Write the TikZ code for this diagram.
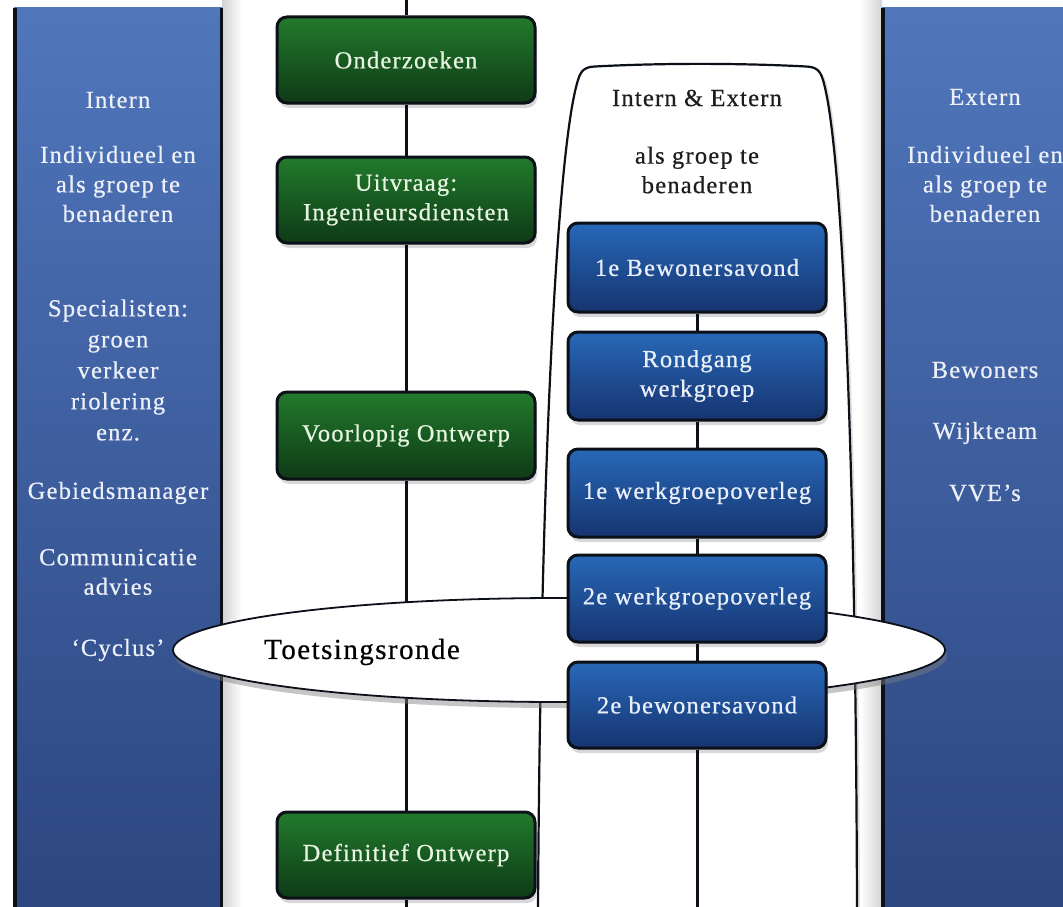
\documentclass[tikz,border=0pt]{standalone}
\usepackage{fontspec}
\setmainfont[LetterSpace=5, FakeBold=0.6]{Liberation Serif}
\usetikzlibrary{shapes.geometric,shadows}
\definecolor{panelTop}{RGB}{80,118,188}
\definecolor{panelBot}{RGB}{44,70,128}
\definecolor{panelTxt}{RGB}{236,240,248}
\definecolor{greenTop}{RGB}{34,122,44}
\definecolor{greenBot}{RGB}{14,58,22}
\definecolor{greenTxt}{RGB}{232,245,226}
\definecolor{blueTop}{RGB}{40,104,184}
\definecolor{blueBot}{RGB}{22,52,112}
\definecolor{blueTxt}{RGB}{234,240,250}
\definecolor{edge}{RGB}{12,16,24}
\definecolor{darkTxt}{RGB}{30,30,30}
\newcommand\diafont{\fontsize{24.5}{29.5}\selectfont}
\newcommand\bigdiafont{\fontsize{29}{34}\selectfont}
\begin{document}
\begin{tikzpicture}[x=1pt,y=-1pt,
  gbox/.style={draw=edge, line width=3pt, rounded corners=10pt,
    minimum width=258pt, minimum height=86pt, inner sep=0pt,
    top color=greenTop, bottom color=greenBot, text=greenTxt,
    align=center, font=\diafont,
    drop shadow={shadow xshift=2pt,shadow yshift=-5pt,opacity=0.3}},
  bbox/.style={gbox, top color=blueTop, bottom color=blueBot, text=blueTxt},
  ptxt/.style={text=panelTxt, align=center, font=\diafont, inner sep=0pt},
  dtxt/.style={text=darkTxt, align=center, font=\diafont, inner sep=0pt},
  conn/.style={draw=edge, line width=3pt},
  panel/.style={top color=panelTop, bottom color=panelBot, draw=none}
]
\useasboundingbox (0,0) rectangle (1063,907);
\fill[white] (0,0) rectangle (1063,907);

% soft shadows beside panels
\shade[left color=gray!35, right color=white] (222,0) rectangle (242,907);
\shade[left color=white, right color=gray!35] (860,0) rectangle (882,907);

% side panels
\shade[panel] (14,8) rectangle (222,907);
\draw[edge, line width=3.5pt] (15,8) -- (15,907);
\draw[edge, line width=3pt] (221,8) -- (221,907);
\shade[panel] (882,8) rectangle (1063,907);
\draw[edge, line width=3.5pt] (883,8) -- (883,907);

% left panel texts
\node[ptxt] (lp1) at (118,100) {Intern};
\node[ptxt] (lp2) at (118,184) {Individueel en\\als groep te\\benaderen};
\node[ptxt, font=\fontsize{24.5}{31}\selectfont] (lp3) at (118,370) {Specialisten:\\groen\\verkeer\\riolering\\enz.};
\node[ptxt] (lp4) at (118,493) {Gebiedsmanager};
\node[ptxt] (lp5) at (118,572) {Communicatie\\advies};
\node[ptxt] (lp6) at (118,650) {`Cyclus'};

% right panel texts
\node[ptxt] (rp1) at (985,97) {Extern};
\node[ptxt] (rp2) at (985,184) {Individueel en\\als groep te\\benaderen};
\node[ptxt] (rp3) at (985,370) {Bewoners};
\node[ptxt] (rp4) at (985,433) {Wijkteam};
\node[ptxt] (rp5) at (985,493) {VVE's};

% tall rounded shape
\draw[edge, line width=2.2pt, fill=white, drop shadow={shadow xshift=3pt,shadow yshift=-2pt,opacity=0.25}]
  (538,915) .. controls (540,500) and (556,150) .. (578,80)
  .. controls (581,70) and (585,67) .. (595,66.5)
  .. controls (660,63) and (740,63) .. (806,66.5)
  .. controls (816,67) and (820,70) .. (823,80)
  .. controls (844,150) and (856,500) .. (857,915);
\node[dtxt] (t1) at (697,98) {Intern \& Extern};
\node[dtxt] (t2) at (697,170) {als groep te\\benaderen};

% green column
\coordinate (gtop) at (406,-2);
\coordinate (gbot) at (406,909);
\node[gbox] (g1) at (406,60) {Onderzoeken};
\node[gbox] (g2) at (406,200) {Uitvraag:\\Ingenieursdiensten};
\node[gbox, minimum height=87pt] (g3) at (406,435.5) {Voorlopig Ontwerp};
\node[gbox] (g4) at (406,855) {Definitief Ontwerp};
\draw[conn] (gtop) -- (g1);
\draw[conn] (g1) -- (g2);
\draw[conn] (g2) -- (g3);
\draw[conn] (g3) -- (g4);
\draw[conn] (g4) -- (gbot);

% Toetsingsronde ellipse
\node[ellipse, draw=edge, line width=1.8pt, fill=white, minimum width=772pt, minimum height=104pt, inner sep=0pt,
  drop shadow={shadow xshift=2pt,shadow yshift=-6pt,opacity=0.45}] (toets) at (559,650) {};
\node[text=black, font=\bigdiafont, inner sep=0pt] (toetstxt) at (362,652) {Toetsingsronde};

% blue column
\coordinate (bbot) at (697,909);
\node[bbox, minimum height=89pt] (b1) at (697,267.5) {1e Bewonersavond};
\node[bbox, minimum height=88pt] (b2) at (697,376) {Rondgang\\werkgroep};
\node[bbox, minimum height=88pt] (b3) at (697,493) {1e werkgroepoverleg};
\node[bbox, minimum height=87pt] (b4) at (697,598.5) {2e werkgroepoverleg};
\node[bbox, minimum height=86pt] (b5) at (697,705) {2e bewonersavond};
\draw[conn] (b1) -- (b2);
\draw[conn] (b2) -- (b3);
\draw[conn] (b3) -- (b4);
\draw[conn] (b4) -- (b5);
\draw[conn] (b5) -- (bbot);
\end{tikzpicture}
\end{document}
